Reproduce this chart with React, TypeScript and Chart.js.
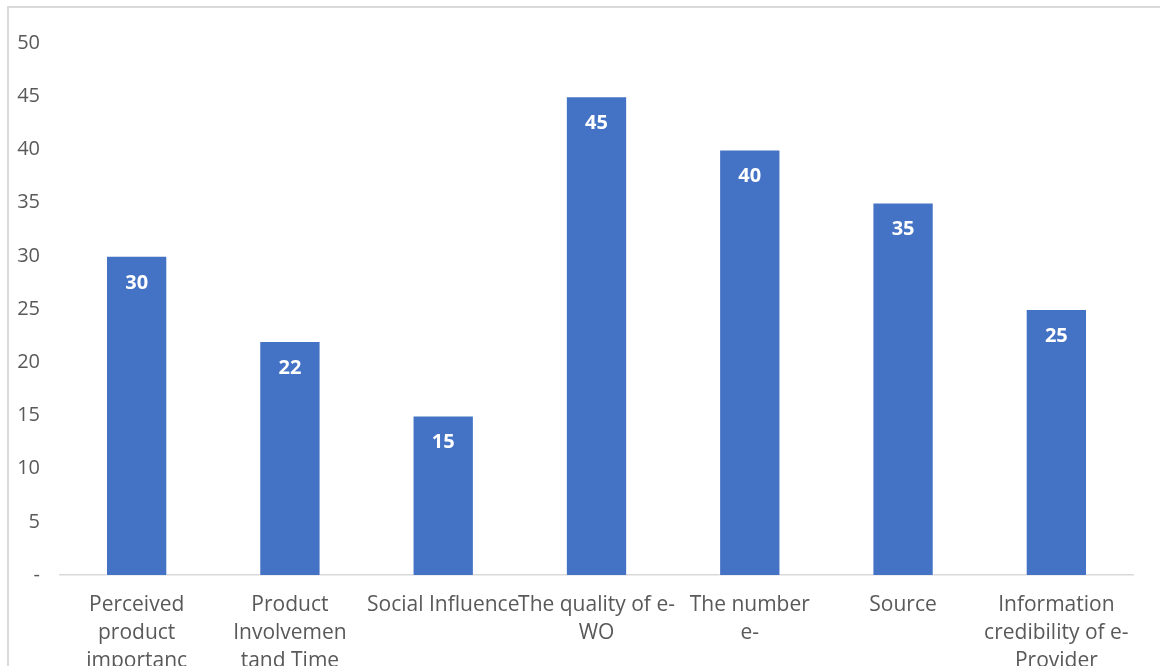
import React, { useEffect, useRef } from "react";
import { Chart, registerables } from "chart.js";

Chart.register(...registerables);

const categories: string[][] = [
  ["Perceived", "product", "importanc"],
  ["Product", "Involvemen", "tand Time"],
  ["Social Influence"],
  ["The quality of e-", "WO"],
  ["The number", "e-"],
  ["Source"],
  ["Information", "credibility of e-", "Provider"],
];
const values: number[] = [30, 22, 15, 45, 40, 35, 25];
const yTicks: number[] = [0, 5, 10, 15, 20, 25, 30, 35, 40, 45, 50];

const FONT = "'Open Sans', 'Noto Sans', sans-serif";
const CANVAS_H = 720;

const dataLabelPlugin = {
  id: "dataLabels",
  afterDatasetsDraw(chart: any) {
    const ctx = chart.ctx;
    const meta = chart.getDatasetMeta(0);
    ctx.save();
    ctx.fillStyle = "#ffffff";
    ctx.font = `bold 20px ${FONT}`;
    ctx.textAlign = "center";
    ctx.textBaseline = "middle";
    meta.data.forEach((bar: any, i: number) => {
      ctx.fillText(String(values[i]), bar.x, bar.y + 27);
    });
    ctx.restore();
  },
};

export default function App() {
  const ref = useRef<HTMLCanvasElement | null>(null);
  useEffect(() => {
    if (!ref.current) return;
    const chart = new Chart(ref.current, {
      type: "bar",
      data: {
        labels: categories,
        datasets: [
          {
            data: values,
            backgroundColor: "#4472C4",
            borderColor: "rgba(255,255,255,0.55)",
            borderWidth: 1,
            categoryPercentage: 1,
            barPercentage: 0.4,
          },
        ],
      },
      options: {
        animation: false,
        responsive: false,
        maintainAspectRatio: false,
        layout: { padding: { left: 0, right: 27, top: 43, bottom: 0 } },
        plugins: {
          legend: { display: false },
          tooltip: { enabled: false },
          title: { display: false },
        },
        scales: {
          x: {
            grid: { display: false, drawTicks: false },
            border: { display: true, color: "#d9d9d9", width: 1.5 },
            ticks: {
              color: "#595959",
              font: { family: FONT, size: 21, lineHeight: 1.34 },
              padding: 16,
              maxRotation: 0,
              minRotation: 0,
              autoSkip: false,
            },
            afterFit(scale: any) {
              scale.height = CANVAS_H - 575;
            },
          },
          y: {
            min: 0,
            max: 50,
            afterBuildTicks(scale: any) {
              scale.ticks = yTicks.map((v) => ({ value: v }));
            },
            grid: { display: false, drawTicks: false },
            border: { display: false },
            ticks: {
              color: "#595959",
              font: { family: FONT, size: 20 },
              padding: 20,
              callback: (v: any) => (Number(v) === 0 ? "-" : String(v)),
            },
            afterFit(scale: any) {
              scale.width = 60;
            },
          },
        },
      },
      plugins: [dataLabelPlugin],
    });
    return () => chart.destroy();
  }, []);

  return (
    <div
      style={{
        position: "fixed",
        left: 0,
        top: 0,
        width: 1160,
        height: 666,
        overflow: "hidden",
        background: "#ffffff",
      }}
    >
      <div
        style={{
          position: "absolute",
          left: 7,
          top: 6,
          width: 1200,
          height: 760,
          border: "2px solid #d9d9d9",
          boxSizing: "border-box",
        }}
      />
      <canvas
        ref={ref}
        width={1160}
        height={CANVAS_H}
        style={{ position: "absolute", left: 0, top: 0, width: 1160, height: CANVAS_H }}
      />
    </div>
  );
}
